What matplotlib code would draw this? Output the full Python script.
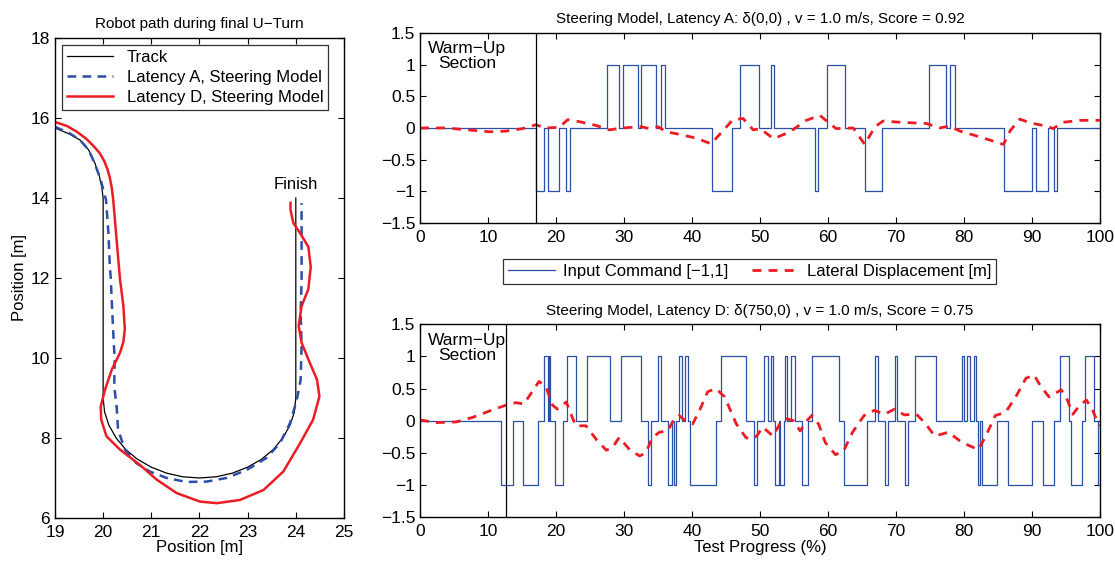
import numpy as np
import matplotlib.pyplot as plt
from matplotlib.ticker import FuncFormatter

plt.rcParams['font.family'] = ['Liberation Sans', 'DejaVu Sans']
plt.rcParams['font.size'] = 12

# --- left panel: robot path (x, y in m) ---
track_x = [19.0, 19.3, 19.52, 19.7, 19.83, 19.92, 19.97, 20.0, 20.0, 20.03, 20.12, 20.27, 20.47,
           20.71, 21.0, 21.32, 21.65, 22.0, 22.35, 22.68, 23.0, 23.29, 23.53, 23.73, 23.88, 23.97,
           24.0, 24.0]
track_y = [15.75, 15.6, 15.45, 15.2, 14.87, 14.55, 14.28, 14.0, 9.0, 8.65, 8.32, 8.0, 7.71,
           7.47, 7.27, 7.12, 7.03, 7.0, 7.03, 7.12, 7.27, 7.47, 7.71, 8.0, 8.32, 8.65,
           9.0, 14.0]

latA_x = [19.0, 19.3, 19.52, 19.7, 19.83, 19.95, 20.06, 20.11, 20.14, 20.16, 20.19, 20.21, 20.24,
          20.23, 20.28, 20.31, 20.45, 20.69, 20.97, 21.32, 21.73, 22.15, 22.56, 22.98, 23.39,
          23.67, 23.88, 24.02, 24.1, 24.12, 24.1, 24.12, 24.12]
latA_y = [15.78, 15.62, 15.45, 15.2, 14.85, 14.45, 13.95, 13.12, 12.28, 11.97, 11.13, 10.64, 9.95,
          9.29, 8.79, 8.21, 7.71, 7.37, 7.16, 7.0, 6.9, 6.91, 7.0, 7.2, 7.5,
          7.87, 8.37, 8.95, 9.45, 10.3, 11.13, 11.97, 13.87]

latD_x = [19.0, 19.25, 19.45, 19.65, 19.8, 19.93, 20.02, 20.09, 20.14, 20.18, 20.21, 20.28, 20.35,
          20.42, 20.45, 20.42, 20.35, 20.18, 20.04, 19.95, 19.96, 20.07, 20.35, 20.76, 21.11,
          21.53, 22.01, 22.36, 22.84, 23.33, 23.74, 24.09, 24.36, 24.49, 24.44, 24.29, 24.12,
          24.06, 24.12, 24.26, 24.31, 24.26, 24.09, 23.95, 23.89, 23.89]
latD_y = [15.9, 15.8, 15.66, 15.48, 15.3, 15.12, 14.93, 14.72, 14.5, 14.25, 13.95, 12.95, 11.97,
          11.3, 10.72, 10.4, 10.13, 9.71, 9.21, 8.79, 8.46, 8.04, 7.71, 7.33, 6.96,
          6.62, 6.41, 6.37, 6.45, 6.7, 7.16, 7.87, 8.46, 9.04, 9.46, 9.88, 10.38,
          10.8, 11.3, 11.72, 12.28, 12.78, 13.12, 13.37, 13.7, 13.88]

# --- right panels: input command (step changes) and lateral displacement ---
cmdA_t = [0, 17.0, 18.2, 18.8, 20.4, 21.5, 22.1, 27.5, 29.3, 29.8, 32.0, 32.5, 34.7, 35.4, 36.0,
          42.9, 45.9, 47.0, 49.85, 51.6, 52.0, 58.1, 58.5, 59.9, 62.5, 65.5, 68.0, 74.9, 77.4,
          78.0, 78.7, 85.9, 90.0, 90.6, 92.4, 93.2, 93.7, 100]
cmdA_v = [0, -1, 0, -1, 0, -1, 0, 1, 0, 1, 0, 1, 0, 1, 0,
          -1, 0, 1, 0, 1, 0, -1, 0, 1, 0, -1, 0, 1, 0,
          1, 0, -1, 0, -1, 0, -1, 0, 0]

latA_t = [0, 3.8, 10.2, 12.6, 15.1, 17.0, 18.5, 20.5, 21.7, 23.4, 25.9, 27.8, 29.8, 32.5, 33.7,
          35.0, 36.2, 38.1, 40.6, 42.8, 44.5, 46.0, 47.5, 49.0, 50.0, 52.0, 54.4, 56.8, 58.8,
          60.0, 61.2, 63.7, 65.4, 66.9, 68.1, 70.6, 74.5, 76.4, 77.9, 79.4, 82.3, 85.8, 86.8,
          88.2, 89.7, 92.1, 93.1, 94.6, 97.1, 100]
latA_d = [0, 0, -0.06, -0.05, -0.01, 0.05, 0.0, 0.01, 0.13, 0.10, 0.04, -0.03, 0.0, 0.02, -0.01,
          0.02, -0.06, -0.1, -0.16, -0.25, -0.05, 0.13, 0.15, -0.03, -0.01, -0.17, -0.06, 0.12, 0.2,
          0.09, -0.01, 0.0, -0.26, 0.02, 0.11, 0.09, 0.07, 0.0, 0.03, -0.05, -0.14, -0.26, -0.04,
          0.14, 0.08, 0.03, -0.01, 0.09, 0.12, 0.12]

cmdD_t = [0, 11.95, 13.7, 15.2, 17.3, 18.2, 18.8, 18.9, 19.1, 19.9, 21.0, 21.6, 23.0, 24.6, 28.0,
          29.6, 32.5, 33.5, 34.0, 35.0, 35.5, 36.4, 37.0, 37.3, 37.7, 38.1, 38.5, 39.0, 39.4,
          39.75, 43.5, 44.2, 48.0, 49.1, 49.6, 50.6, 51.1, 51.6, 51.9, 52.2, 52.8, 53.0, 53.5,
          53.7, 54.0, 54.6, 55.2, 56.2, 57.1, 57.6, 61.6, 62.3, 65.8, 66.9, 67.3, 68.4, 68.8,
          69.9, 70.2, 71.3, 71.7, 72.8, 75.9, 79.7, 80.0, 80.4, 80.9, 81.4, 81.8, 82.1, 82.4,
          82.7, 84.8, 86.4, 90.0, 91.6, 93.2, 94.1, 95.5, 95.7, 97.3, 97.8, 99.1, 99.7, 100]
cmdD_v = [0, -1, 0, -1, 0, 1, 0, 1, 0, -1, 0, 1, 0, 1, 0,
          1, 0, -1, 0, 1, 0, -1, 0, -1, 0, 1, 0, 1, 0,
          -1, 0, 1, 0, -1, 0, 1, 0, 1, 0, -1, 0, -1, 0,
          1, 0, 1, 0, -1, 0, 1, 0, -1, 0, 1, 0, -1, 0,
          1, 0, -1, 0, 1, 0, 1, 0, 1, 0, 1, 0, -1, 0,
          -1, 0, -1, 0, -1, 0, 1, 0, -1, 0, 1, 0, -1, -1]

latD_t = [0, 2.4, 5.3, 7.7, 10.2, 12.6, 14.1, 15.3, 16.6, 17.5, 18.5, 19.5, 20.2, 21.5, 22.2,
          22.9, 24.4, 25.9, 27.4, 28.3, 29.3, 30.8, 32.3, 33.2, 34.2, 35.2, 36.4, 37.4, 38.1,
          39.1, 40.1, 41.1, 42.3, 43.5, 44.8, 46.5, 47.9, 48.5, 49.5, 50.4, 51.9, 52.9, 53.9,
          54.9, 55.9, 56.9, 57.6, 58.6, 59.6, 61.1, 62.3, 63.6, 65.3, 66.8, 68.3, 69.8, 71.2,
          73.0, 74.2, 75.7, 77.7, 79.7, 82.1, 83.1, 84.6, 86.1, 87.6, 89.1, 90.3, 91.3, 92.5,
          94.3, 95.2, 96.0, 97.0, 98.0, 98.9, 99.9]
latD_d = [0.01, -0.03, -0.02, 0.05, 0.15, 0.24, 0.28, 0.26, 0.47, 0.61, 0.53, 0.24, 0.18, 0.29, 0.1,
          -0.08, -0.08, -0.29, -0.46, -0.42, -0.26, -0.45, -0.55, -0.5, -0.26, -0.18, -0.16, 0.03, 0.08,
          -0.01, -0.05, 0.16, 0.45, 0.5, 0.37, -0.05, -0.26, -0.29, -0.24, -0.1, -0.24, -0.05, 0.03,
          0.0, -0.16, 0.0, 0.08, -0.05, -0.34, -0.53, -0.47, -0.18, 0.08, 0.16, 0.1, 0.18, 0.09,
          0.1, -0.03, -0.24, -0.18, -0.34, -0.45, -0.26, 0.08, 0.13, 0.37, 0.66, 0.71, 0.53, 0.37,
          0.48, 0.32, 0.1, 0.24, 0.32, 0.16, -0.08]

warmupA = 17.0
warmupD = 12.6

blue = '#2b4ea6'
red = '#ec1c24'


def matlab_axes(ax):
    ax.tick_params(direction='in', top=True, right=True, length=4, width=0.8, labelsize=12.5)
    ax.tick_params(axis='x', pad=5)
    for sp in ax.spines.values():
        sp.set_linewidth(1.0)


fig = plt.figure(figsize=(11.15, 5.64), dpi=100)

# left path plot
ax0 = fig.add_axes([0.0493, 0.0816, 0.2592, 0.851])
ax0.plot(track_x, track_y, color='black', lw=0.9, label='Track')
ax0.plot(latA_x, latA_y, color=blue, lw=1.8, ls=(0, (3.5, 2.5)), label='Latency A, Steering Model')
ax0.plot(latD_x, latD_y, color=red, lw=1.8, label='Latency D, Steering Model')
ax0.text(24.0, 14.15, 'Finish', ha='center', va='bottom', fontsize=12)
ax0.set_xlim(19, 25)
ax0.set_ylim(6, 18)
ax0.set_xticks(range(19, 26))
ax0.set_yticks(range(6, 19, 2))
ax0.set_xlabel('Position [m]', fontsize=12, labelpad=0)
ax0.set_ylabel('Position [m]', fontsize=12, labelpad=3)
ax0.set_title('Robot path during final U\u2212Turn', fontsize=11, pad=7)
leg0 = ax0.legend(loc='upper left', fontsize=12, frameon=True, fancybox=False, edgecolor='black',
                  borderaxespad=0.4, handlelength=2.8, labelspacing=0.3, borderpad=0.3)
leg0.get_frame().set_linewidth(0.9)
matlab_axes(ax0)

fmt = FuncFormatter(lambda v, p: ('%g' % v).replace('-', '\u2212'))


def signal_panel(ax, t, v, lt, ld, warm, title):
    ax.step(t, v, where='post', color=blue, lw=0.9, label='Input Command [\u22121,1]')
    ax.plot(lt, ld, color=red, lw=2.0, ls=(0, (3.2, 2.6)), label='Lateral Displacement [m]')
    ax.axvline(warm, color='black', lw=0.9)
    ax.text(6.9, 1.13, 'Warm\u2212Up\nSection', ha='center', va='center', fontsize=12.5, linespacing=1.0)
    ax.set_xlim(0, 100)
    ax.set_ylim(-1.5, 1.5)
    ax.set_xticks(range(0, 101, 10))
    ax.set_yticks([-1.5, -1, -0.5, 0, 0.5, 1, 1.5])
    ax.yaxis.set_major_formatter(fmt)
    ax.set_title(title, fontsize=11, pad=7)
    matlab_axes(ax)


ax1 = fig.add_axes([0.3767, 0.6046, 0.6099, 0.337])
signal_panel(ax1, cmdA_t, cmdA_v, latA_t, latA_d, warmupA,
             'Steering Model, Latency A: \u03b4(0,0) , v = 1.0 m/s, Score = 0.92')

ax2 = fig.add_axes([0.3767, 0.0833, 0.6099, 0.3417])
signal_panel(ax2, cmdD_t, cmdD_v, latD_t, latD_d, warmupD,
             'Steering Model, Latency D: \u03b4(750,0) , v = 1.0 m/s, Score = 0.75')
ax2.set_xlabel('Test Progress (%)', fontsize=12, labelpad=1)

h, l = ax1.get_legend_handles_labels()
leg = fig.legend(h, l, loc='center', bbox_to_anchor=(0.6726, 0.5195), ncol=2, fontsize=12,
                 frameon=True, fancybox=False, edgecolor='black', handlelength=2.8,
                 columnspacing=1.4, borderpad=0.3, handletextpad=0.5)
leg.get_frame().set_linewidth(0.9)

fig.savefig('out.png', dpi=100)
